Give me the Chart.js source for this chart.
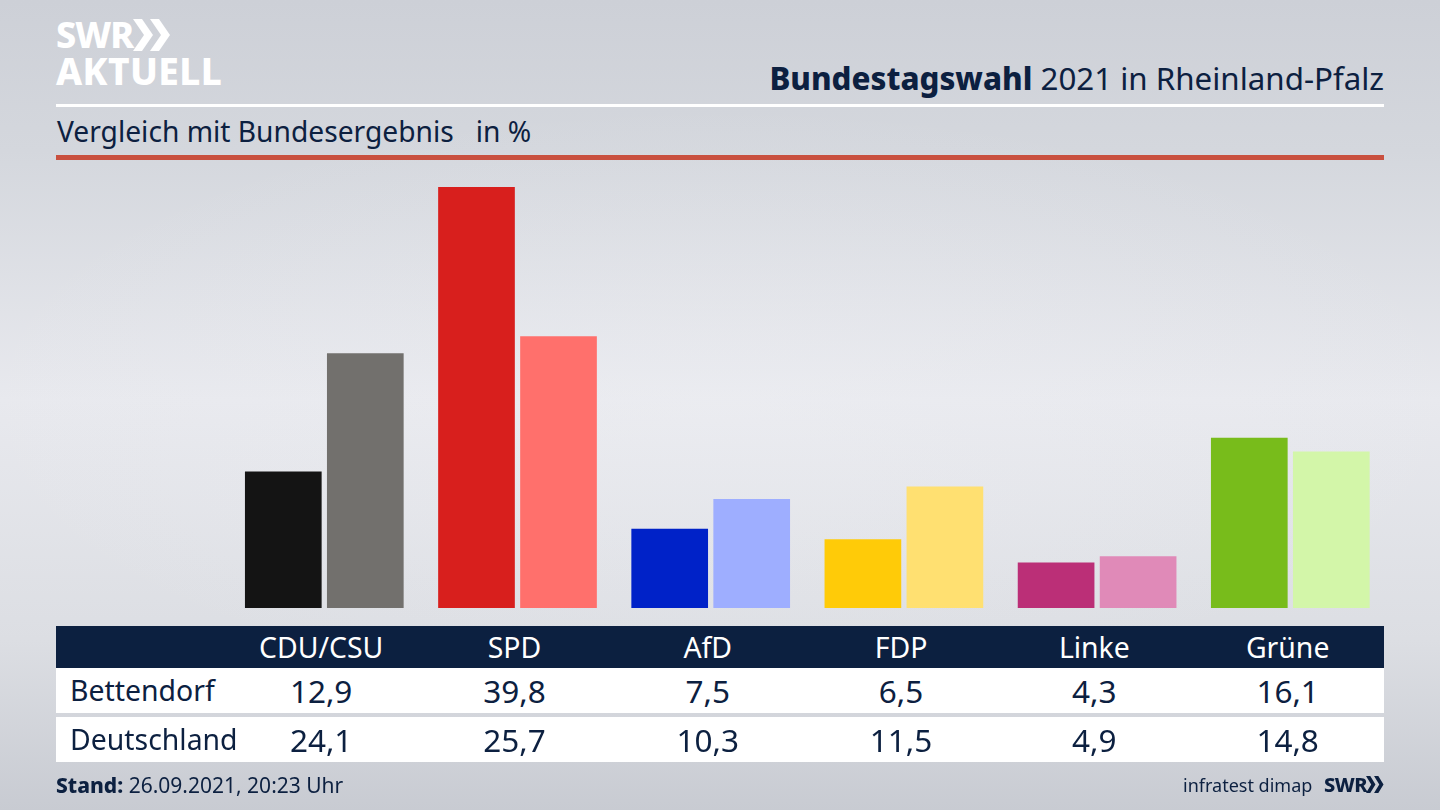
<!DOCTYPE html>
<html lang="de">
<head>
<meta charset="utf-8">
<title>Bundestagswahl 2021 in Rheinland-Pfalz</title>
<script src="https://cdn.jsdelivr.net/npm/chart.js@4"></script>
<style>
  html, body { margin: 0; padding: 0; }
  body {
    width: 1440px; height: 810px; overflow: hidden; position: relative;
    font-family: "Noto Sans", sans-serif; color: #0c2040;
    background:
      radial-gradient(ellipse 760px 300px at 50% 50%, rgba(240,241,245,.35), rgba(240,241,245,0)),
      linear-gradient(180deg, #cdd0d7 0, #d4d7dd 150px, #e8e9ee 400px, #dcdee3 640px, #c8cbd2 810px);
  }
  #chart { position: absolute; left: 0; top: 0; }
  .abs { position: absolute; white-space: nowrap; }
  .logo { color: #fff; font-weight: 800; left: 56px; line-height: 1; }
  .rule { position: absolute; left: 56px; width: 1328px; }
  #title { right: 56px; top: 58px; font-size: 31.3px; line-height: 40px; }
  #title b { font-weight: 800; }
  #subtitle { left: 57px; top: 112px; font-size: 28.2px; line-height: 38px; white-space: pre; }
  .band { position: absolute; left: 56px; width: 1328px; }
  .cell { position: absolute; top: 0; width: 193.3px; text-align: center; white-space: nowrap; }
  .rowlabel { position: absolute; left: 14px; top: 0; white-space: nowrap; font-size: 28.4px; }
  #footer { left: 56px; top: 771px; font-size: 21px; line-height: 28px; }
  #footer b { font-weight: 800; }
  #source { left: 1183px; top: 771px; font-size: 18px; line-height: 28px; }
  #swr { left: 1324px; top: 773px; font-size: 20px; line-height: 24px; font-weight: 800; letter-spacing: -.5px; }
</style>
</head>
<body>
<div class="abs logo" style="top:17px;font-size:36px;letter-spacing:-1px">SWR</div>
<svg class="abs" style="left:133px;top:19px" width="38" height="32" viewBox="0 0 38 32">
  <path d="M0 0h9l11 16L9 32H0l11-16zM17 0h9l11 16-11 16h-9l11-16z" fill="#fff"/>
</svg>
<div class="abs logo" style="top:52px;font-size:37px;letter-spacing:.4px">AKTUELL</div>
<div class="abs" id="title"><b>Bundestagswahl</b> 2021 in Rheinland-Pfalz</div>
<div class="rule" style="top:104px;height:3px;background:#fff"></div>
<div class="abs" id="subtitle">Vergleich mit Bundesergebnis   in %</div>
<div class="rule" style="top:155px;height:5px;background:#c9503f"></div>

<canvas id="chart" width="1440" height="810"></canvas>

<div class="band" id="head" style="top:626px;height:42px;background:#0c2040;color:#fff;font-size:28.4px;line-height:43px"></div>
<div class="band" id="row1" style="top:668px;height:45px;background:#fff;font-size:31.5px;line-height:45px"></div>
<div class="band" id="row2" style="top:717px;height:45px;background:#fff;font-size:31.5px;line-height:45px"></div>

<div class="abs" id="footer"><b>Stand:</b> 26.09.2021, 20:23 Uhr</div>
<div class="abs" id="source">infratest dimap</div>
<div class="abs" id="swr">SWR</div>
<svg class="abs" style="left:1366px;top:776px" width="18" height="17" viewBox="0 0 38 32" preserveAspectRatio="none">
  <path d="M0 0h9l11 16L9 32H0l11-16zM17 0h9l11 16-11 16h-9l11-16z" fill="#0c2040"/>
</svg>

<script>
const parties = ['CDU/CSU', 'SPD', 'AfD', 'FDP', 'Linke', 'Grüne'];
const bettendorf = [12.9, 39.8, 7.5, 6.5, 4.3, 16.1];
const deutschland = [24.1, 25.7, 10.3, 11.5, 4.9, 14.8];
const bettendorfColors = ['#141414', '#d81f1d', '#0022c8', '#ffcb08', '#bb2f77', '#78bc1b'];
const deutschlandColors = ['#72706d', '#ff706c', '#9eaeff', '#ffe071', '#e08ab8', '#d3f6a9'];
const rowNames = ['Bettendorf', 'Deutschland'];

// table under the bars
function fillRow(id, values, label) {
  const row = document.getElementById(id);
  if (label) {
    const name = document.createElement('div');
    name.className = 'rowlabel';
    name.textContent = label;
    row.appendChild(name);
  }
  values.forEach((value, i) => {
    const cell = document.createElement('div');
    cell.className = 'cell';
    cell.style.left = (168.5 + i * 193.3) + 'px';
    cell.textContent = typeof value === 'number' ? value.toFixed(1).replace('.', ',') : value;
    row.appendChild(cell);
  });
}
fillRow('head', parties);
fillRow('row1', bettendorf, rowNames[0]);
fillRow('row2', deutschland, rowNames[1]);

new Chart(document.getElementById('chart'), {
  type: 'bar',
  data: {
    labels: parties,
    datasets: [
      { label: rowNames[0], data: bettendorf, backgroundColor: bettendorfColors },
      { label: rowNames[1], data: deutschland, backgroundColor: deutschlandColors }
    ]
  },
  options: {
    responsive: false,
    animation: false,
    layout: { padding: { left: 227.7, right: 53.1, top: 185, bottom: 202 } },
    datasets: { bar: { categoryPercentage: 0.849, barPercentage: 0.935 } },
    plugins: { legend: { display: false }, tooltip: { enabled: false } },
    scales: {
      x: { display: false },
      y: { display: false, min: 0, max: 40 }
    }
  }
});
</script>
</body>
</html>
